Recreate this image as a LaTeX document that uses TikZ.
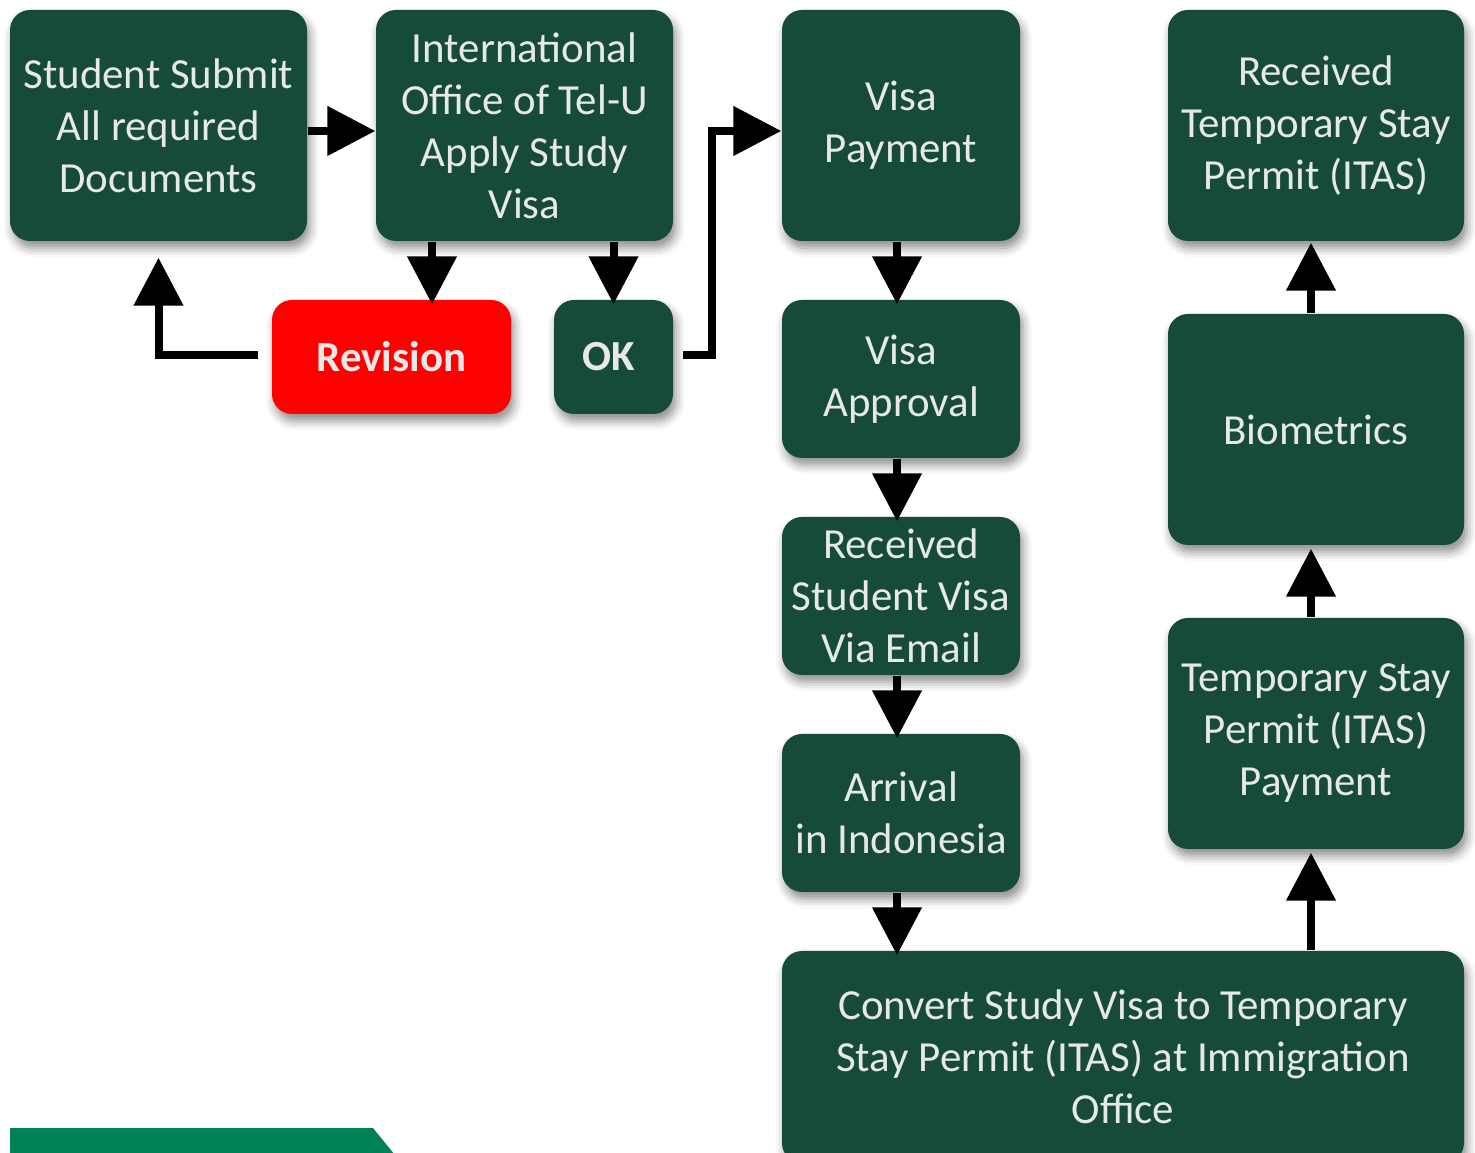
\documentclass[tikz,border=0pt]{standalone}
\usepackage{fontspec}
\setmainfont{Carlito}
\usetikzlibrary{arrows.meta,shadows.blur}

\definecolor{boxgreen}{RGB}{22,75,58}
\definecolor{boxred}{RGB}{255,0,0}
\definecolor{bargreen}{RGB}{0,128,85}
\definecolor{boxtext}{RGB}{232,232,232}

\tikzset{
  stepbox/.style={rounded corners=0.2cm, fill=boxgreen, text=boxtext, align=center,
    inner sep=0pt, font=\fontsize{12.2}{14.8}\selectfont,
    blur shadow={shadow xshift=0.03cm, shadow yshift=-0.07cm, shadow blur radius=0.09cm, shadow opacity=45}},
  redbox/.style={stepbox, fill=boxred, font=\fontsize{12.2}{14.8}\selectfont\bfseries},
  okbox/.style={stepbox, font=\fontsize{12.2}{14.8}\selectfont\bfseries},
  flowarrow/.style={line width=0.08cm, -{Triangle[length=0.48cm,width=0.48cm]}}
}

\begin{document}
\begin{tikzpicture}
      % page frame
      \clip (0,0) rectangle (14.75,-11.53);

      % bottom band
      \fill[bargreen] (0.10,-11.28) -- (3.73,-11.28) -- (3.99,-11.60) -- (0.10,-11.60) -- cycle;

      % column 1 and 2: application
      \node[stepbox, minimum width=2.97cm, minimum height=2.31cm] (student) at (1.585,-1.255) {Student Submit\\All required\\Documents};
      \node[stepbox, minimum width=2.97cm, minimum height=2.31cm] (office) at (5.245,-1.255) {International\\Office of Tel-U\\Apply Study\\Visa};
      \node[redbox, minimum width=2.39cm, minimum height=1.14cm] (revision) at (3.915,-3.57) {Revision};
      \node[okbox, minimum width=1.19cm, minimum height=1.14cm] (ok) at (6.135,-3.57) {\hspace*{-0.1cm}OK};

      % column 3: visa
      \node[stepbox, minimum width=2.38cm, minimum height=2.31cm] (payment) at (9.01,-1.255) {Visa\\Payment};
      \node[stepbox, minimum width=2.38cm, minimum height=1.58cm] (approval) at (9.01,-3.79) {Visa\\Approval};
      \node[stepbox, minimum width=2.38cm, minimum height=1.58cm] (received) at (9.01,-5.96) {Received\\Student Visa\\Via Email};
      \node[stepbox, minimum width=2.38cm, minimum height=1.58cm] (arrival) at (9.01,-8.13) {Arrival\\in Indonesia};
      \node[stepbox, minimum width=6.82cm, minimum height=2.12cm] (convert) at (11.23,-10.57) {Convert Study Visa to Temporary\\Stay Permit (ITAS) at Immigration\\Office};

      % column 4: ITAS
      \node[stepbox, minimum width=2.96cm, minimum height=2.31cm] (itaspay) at (13.16,-7.335) {Temporary Stay\\Permit (ITAS)\\Payment};
      \node[stepbox, minimum width=2.96cm, minimum height=2.31cm] (biometrics) at (13.16,-4.295) {Biometrics};
      \node[stepbox, minimum width=2.96cm, minimum height=2.31cm] (itas) at (13.16,-1.255) {Received\\Temporary Stay\\Permit (ITAS)};

      % connectors
      \draw[flowarrow] ([yshift=-0.055cm]student.east) -- ([yshift=-0.055cm]office.west);
      \draw[flowarrow] ([xshift=-9.25mm]office.south) -- ([xshift=-9.25mm,yshift=-0.05cm]office.south |- revision.north);
      \draw[flowarrow] (ok.north |- office.south) -- ([yshift=-0.05cm]ok.north);
      \draw[flowarrow] ([xshift=-1.3mm,yshift=0.02cm]revision.west) -| ([yshift=-1.6mm]student.south);
      \draw[flowarrow] ([xshift=0.9mm,yshift=0.02cm]ok.east) -- ++(0.29,0) |- ([yshift=-0.055cm]payment.west);

      \draw[flowarrow] ([xshift=-0.04cm]payment.south) -- ([xshift=-0.04cm,yshift=-0.05cm]approval.north);
      \draw[flowarrow] ([xshift=-0.04cm]approval.south) -- ([xshift=-0.04cm,yshift=-0.05cm]received.north);
      \draw[flowarrow] ([xshift=-0.04cm]received.south) -- ([xshift=-0.04cm,yshift=-0.05cm]arrival.north);
      \draw[flowarrow] ([xshift=-0.04cm]arrival.south) -- ([xshift=-0.04cm,yshift=-0.05cm]arrival.south |- convert.north);

      \draw[flowarrow] ([xshift=-0.05cm]itaspay.south |- convert.north) -- ([xshift=-0.05cm,yshift=-0.03cm]itaspay.south);
      \draw[flowarrow] ([xshift=-0.05cm]itaspay.north) -- ([xshift=-0.05cm,yshift=-0.03cm]biometrics.south);
      \draw[flowarrow] ([xshift=-0.05cm]biometrics.north) -- ([xshift=-0.05cm,yshift=-0.01cm]itas.south);
\end{tikzpicture}
\end{document}
